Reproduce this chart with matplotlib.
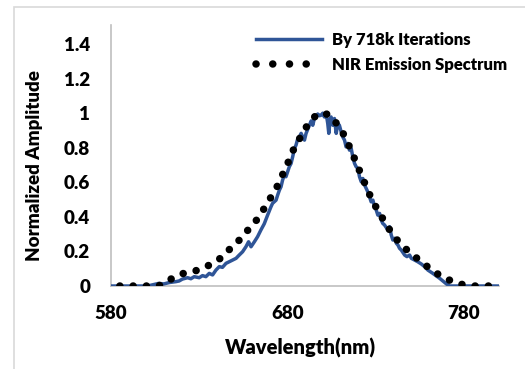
import matplotlib

matplotlib.use("Agg")
import matplotlib.pyplot as plt
from matplotlib.lines import Line2D
from matplotlib.patches import Rectangle

# blue trace (wavelength nm, normalized amplitude)
iter_wl = [580, 590, 600, 602, 605, 607, 610, 613, 616.7, 618.6, 620.5, 623.4, 625.3, 627.2,
           630, 631.9, 633.8, 635.7, 637.6, 639.5, 641.4, 643.2, 645.2, 647, 648.9, 650.9,
           652.7, 654.6, 656.5, 658, 659.4, 661.3, 663.1, 665, 666.9, 668.8, 670.7, 671.6,
           673.6, 674.5, 675.5, 676.4, 677.3, 678.3, 679.2, 681.1, 682.1, 683, 684, 684.9,
           685.9, 686.8, 687.8, 688.7, 689.7, 690.6, 692.5, 693.5, 694.4, 695.3, 696.3,
           697.2, 698.2, 699.1, 700.1, 701, 702, 702.9, 703.5, 704.2, 704.8, 705.8, 706.7,
           707.7, 708.6, 709.5, 710.5, 711.4, 712.4, 713.3, 714.3, 715.2, 716.2, 717.1,
           718.1, 719, 720, 720.9, 721.9, 722.8, 723.8, 724.7, 725.6, 726.6, 727.5, 728.5,
           729.4, 730.4, 731.3, 732.3, 733.2, 734.1, 735.1, 737, 738, 738.9, 739.8, 740.8,
           741.8, 742.7, 743.6, 744.6, 746.5, 747.8, 749.3, 750.3, 752.2, 754, 756, 757.8,
           759.7, 762.5, 766.4, 770.2, 772, 780, 790, 800]
iter_amp = [0, 0, 0, 0.003, 0.010, 0.015, 0.012, 0.020, 0.025, 0.029, 0.040, 0.048, 0.042, 0.054,
            0.048, 0.060, 0.054, 0.073, 0.064, 0.092, 0.112, 0.108, 0.131, 0.140, 0.150, 0.160,
            0.179, 0.198, 0.227, 0.256, 0.227, 0.256, 0.285, 0.324, 0.360, 0.410, 0.458, 0.478,
            0.497, 0.526, 0.555, 0.574, 0.613, 0.642, 0.632, 0.690, 0.709, 0.747, 0.795, 0.815,
            0.853, 0.863, 0.883, 0.863, 0.844, 0.883, 0.930, 0.955, 0.930, 0.969, 0.975,
            0.995, 0.985, 0.988, 1.000, 0.978, 0.998, 0.940, 0.883, 0.960, 0.978, 0.930, 0.969,
            0.883, 0.940, 0.930, 0.892, 0.863, 0.844, 0.805, 0.825, 0.786, 0.796, 0.747,
            0.709, 0.690, 0.680, 0.632, 0.603, 0.622, 0.584, 0.565, 0.545, 0.516, 0.487, 0.497,
            0.458, 0.439, 0.410, 0.420, 0.382, 0.362, 0.353, 0.324, 0.343, 0.295, 0.266, 0.276,
            0.247, 0.237, 0.218, 0.208, 0.179, 0.170, 0.179, 0.160, 0.150, 0.140, 0.127, 0.112,
            0.092, 0.073, 0.044, 0.012, 0, 0, 0, 0]

# NIR emission spectrum (dotted series)
nir_wl = [585, 592, 600, 607, 613, 620, 628, 635, 642, 647, 653, 658, 663, 667, 671, 675,
          678, 681, 684, 688, 692, 697, 700, 704, 709, 713, 716, 719, 722, 725, 728, 732,
          736, 740, 745, 751, 757, 763, 769.5, 777, 784, 792, 800]
nir_amp = [0, 0, 0, 0, 0.035, 0.070, 0.088, 0.117, 0.160, 0.210, 0.268, 0.328, 0.387, 0.451,
           0.519, 0.590, 0.661, 0.728, 0.802, 0.871, 0.942, 0.995, 1.0, 0.990, 0.926, 0.859,
           0.786, 0.715, 0.640, 0.568, 0.497, 0.426, 0.357, 0.293, 0.233, 0.181, 0.131, 0.083,
           0.044, 0.013, 0, 0, 0]

x_ticks = [580, 680, 780]
y_ticks = [0, 0.2, 0.4, 0.6, 0.8, 1.0, 1.2, 1.4]
y_labels = ["0", "0.2", "0.4", "0.6", "0.8", "1", "1.2", "1.4"]

BLUE = "#2f5597"

plt.rcParams["font.family"] = ["Lato", "DejaVu Sans"]
plt.rcParams["font.weight"] = "heavy"

W, H = 525, 369
fig = plt.figure(figsize=(W / 100, H / 100), dpi=100)
ax = fig.add_axes([111 / W, 1 - 286 / H, (499 - 111) / W, (286 - 25) / H])

# light grey chart border
fig.patches.append(Rectangle((14 / W, -0.1), 1.2, 1 - 7 / H + 0.1, transform=fig.transFigure,
                             fill=False, edgecolor="#d9d9d9", lw=1.2))

ax.plot(iter_wl, iter_amp, color=BLUE, lw=2.5, zorder=3)
ax.plot(nir_wl, nir_amp, color="black", lw=5.4, linestyle=(0, (0.01, 1.76)),
        dash_capstyle="round", zorder=4)

ax.set_xlim(580, 800)
ax.set_ylim(0, 1.51)
ax.set_xticks(x_ticks)
ax.set_yticks(y_ticks)
ax.set_yticklabels(y_labels)
ax.tick_params(length=0, labelsize=13.5, labelcolor="black")
ax.tick_params(axis="y", pad=15)
ax.tick_params(axis="x", pad=14)
for s in ["top", "right"]:
    ax.spines[s].set_visible(False)
for s in ["left", "bottom"]:
    ax.spines[s].set_color("#bfbfbf")
    ax.spines[s].set_linewidth(1.2)
ax.set_zorder(2)

fig.text(35 / W, 1 - 166 / H, "Normalized Amplitude", rotation=90, ha="center", va="center",
         fontsize=13.5, fontweight="heavy")
fig.text(301 / W, 1 - 348 / H, "Wavelength(nm)", ha="center", va="center",
         fontsize=14.5, fontweight="heavy")

handles = [
    Line2D([], [], color=BLUE, lw=2.5),
    Line2D([], [], color="black", lw=5.4, linestyle=(0, (0.01, 2.22)), dash_capstyle="round"),
]
ax.legend(handles, ["By 718k Iterations", "NIR Emission Spectrum"],
          loc="upper left", bbox_to_anchor=(241 / W, 1 - 17 / H),
          bbox_transform=fig.transFigure, frameon=False, fontsize=12,
          handlelength=3.95, handletextpad=0.62, labelspacing=0.55)

fig.savefig("out.png", dpi=100)
